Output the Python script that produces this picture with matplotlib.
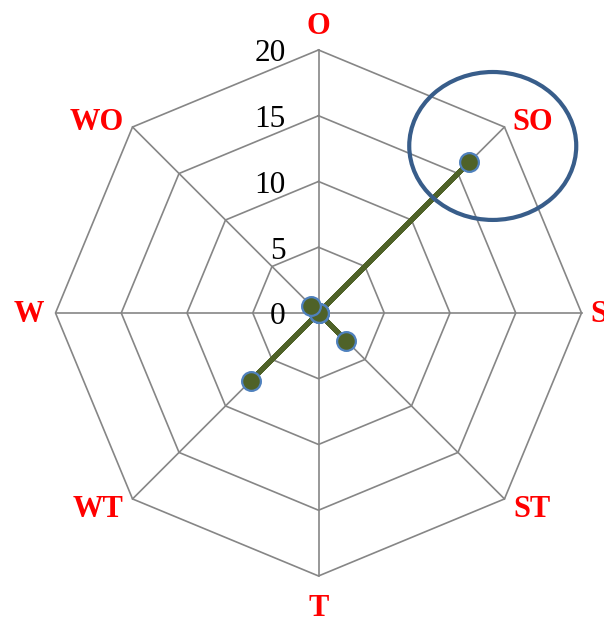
import numpy as np
import matplotlib
matplotlib.use("Agg")
import matplotlib.pyplot as plt
from matplotlib.patches import Ellipse

# Wind directions (clockwise from top) and observed counts
directions = ["O", "SO", "S", "ST", "T", "WT", "W", "WO"]
counts = [0, 16.2, 0, 3, 0, 7.3, 0, 0.8]
ring_levels = [0, 5, 10, 15, 20]
ring_labels = ["0", "5", "10", "15", "20"]

r_max = 20
n = len(directions)
angles = np.arange(n) * 2 * np.pi / n  # measured clockwise from north


def to_xy(r, a):
    return r * np.sin(a), r * np.cos(a)


fig = plt.figure(figsize=(6.04, 6.17), dpi=100)
ax = fig.add_axes([0, 0, 1, 1])
ax.set_xlim(-24.22, 21.71)
ax.set_ylim(-23.12, 23.80)
ax.set_aspect("equal")
ax.axis("off")

grid_color = "#868686"
serif = ["Liberation Serif", "DejaVu Serif"]

# octagonal rings
closed = np.append(angles, angles[0])
for lvl in ring_levels[1:]:
    gx, gy = to_xy(lvl, closed)
    ax.plot(gx, gy, color=grid_color, lw=1.2, zorder=1)

# spokes
for a in angles:
    sx, sy = to_xy(np.array([0, r_max]), a)
    ax.plot(sx, sy, color=grid_color, lw=1.2, zorder=1)

# ring value labels along the north spoke
for lvl, txt in zip(ring_levels, ring_labels):
    ax.text(-2.5, lvl - 0.3, txt, ha="right", va="center", fontsize=22.5,
            family=serif, color="black", zorder=2)

# direction label positions (data units)
label_pos = {
    "O": (0, 21.75), "SO": (16.3, 14.45), "ST": (16.2, -14.95),
    "T": (0, -22.45), "WT": (-16.75, -14.95), "WO": (-16.9, 14.45),
}
for name in directions:
    style = dict(fontsize=22, fontweight="bold", family=serif, color="red")
    if name == "S":
        ax.text(r_max + 0.7, -0.15, name, ha="left", va="center", **style)
    elif name == "W":
        ax.text(-r_max - 0.9, -0.15, name, ha="right", va="center", **style)
    else:
        lx, ly = label_pos[name]
        ax.text(lx, ly, name, ha="center", va="center", **style)

# data series
vals = np.append(counts, counts[0])
dx, dy = to_xy(vals, closed)
ax.plot(dx, dy, color="#4F6228", lw=3.7, zorder=3, solid_capstyle="round")
px, py = to_xy(np.array(counts), angles)
ax.plot(px, py, ls="none", marker="o", ms=13.5, mfc="#4F6228",
        mec="#4F81BD", mew=1.6, zorder=4)

# highlight around the dominant direction
ax.add_patch(Ellipse((13.25, 12.7), 12.7, 11.25, fill=False,
                     edgecolor="#385D8A", lw=3.0, zorder=5))

fig.savefig("out.png", dpi=100)
